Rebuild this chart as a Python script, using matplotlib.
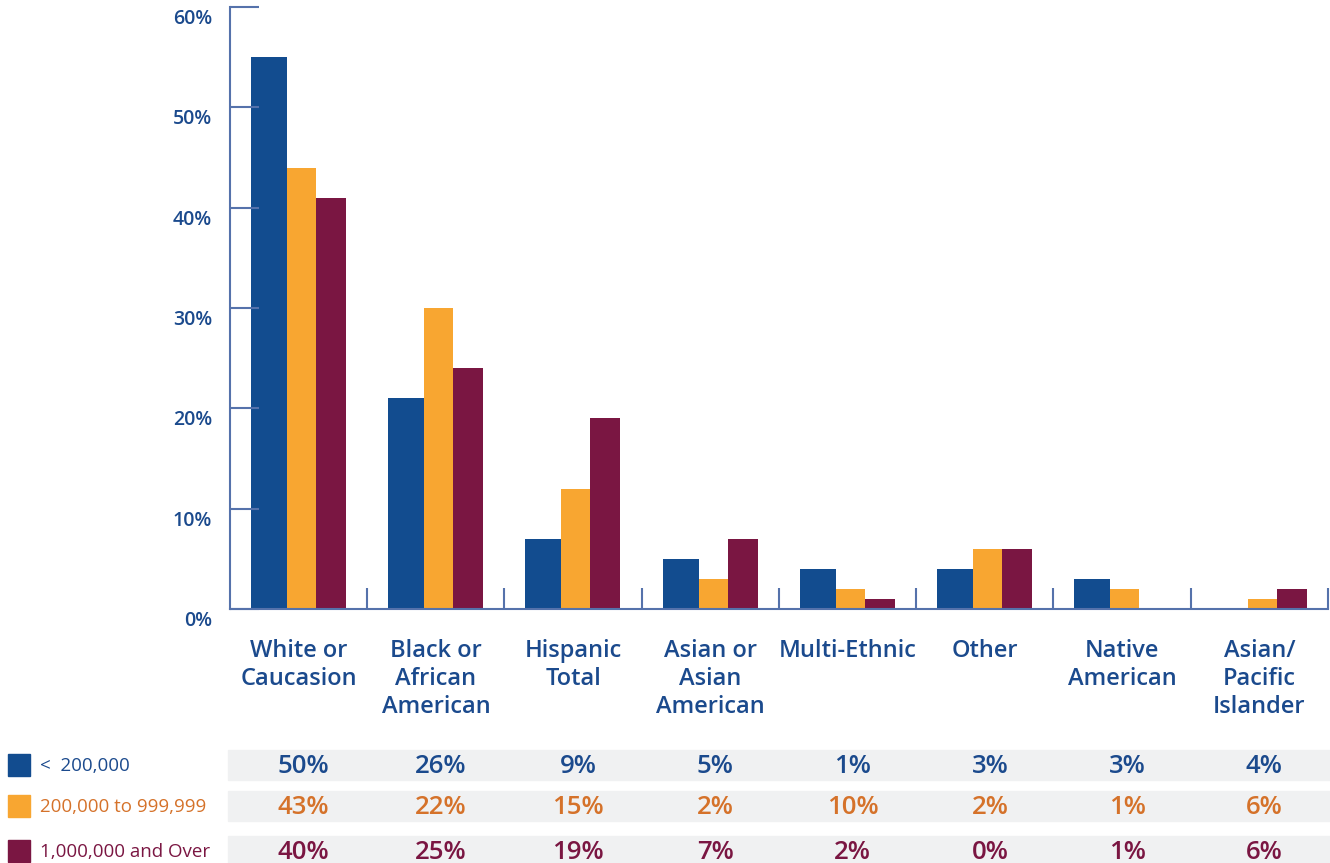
import matplotlib
matplotlib.use("Agg")
import matplotlib.pyplot as plt
from matplotlib.patches import Rectangle
import matplotlib.transforms as mtrans

# bar heights (percent)
categories = ["White or\nCaucasion", "Black or\nAfrican\nAmerican", "Hispanic\nTotal",
              "Asian or\nAsian\nAmerican", "Multi-Ethnic", "Other", "Native\nAmerican",
              "Asian/\nPacific\nIslander"]
small = [55, 21, 7, 5, 4, 4, 3, 0]
medium = [44, 30, 12, 3, 2, 6, 2, 1]
large = [41, 24, 19, 7, 1, 6, 0, 2]

# table values printed under the chart
series_names = ["<  200,000", "200,000 to 999,999", "1,000,000 and Over"]
tab_small = ["50%", "26%", "9%", "5%", "1%", "3%", "3%", "4%"]
tab_medium = ["43%", "22%", "15%", "2%", "10%", "2%", "1%", "6%"]
tab_large = ["40%", "25%", "19%", "7%", "2%", "0%", "1%", "6%"]
yticks = [0, 10, 20, 30, 40, 50, 60]

BLUE = "#124C8F"
ORANGE = "#F8A631"
MAROON = "#7A1642"
TXT_BLUE = "#1B4A8D"
TXT_ORANGE = "#D5722A"
SPINE = "#5572AB"
BAND = "#F0F1F2"

plt.rcParams['font.family'] = ['Open Sans', 'DejaVu Sans']

fig = plt.figure(figsize=(13.3, 8.63), dpi=100)
ax = fig.add_axes([230/1330, 1-609/863, 1098/1330, 602/863])

n = len(categories)
xs = list(range(n))
# bar left edges / widths as fractions of a group
ax.bar([x + 0.153 for x in xs], small, width=0.262, align='edge', color=BLUE)
ax.bar([x + 0.415 for x in xs], medium, width=0.211, align='edge', color=ORANGE)
ax.bar([x + 0.626 for x in xs], large, width=0.219, align='edge', color=MAROON)

ax.set_xlim(0, n)
ax.set_ylim(0, 60)
for s in ['top', 'right']:
    ax.spines[s].set_visible(False)
for s in ['left', 'bottom']:
    ax.spines[s].set_color(SPINE)
    ax.spines[s].set_linewidth(1.5)

ax.set_yticks(yticks)
ax.set_yticklabels([])
ax.tick_params(axis='y', direction='in', length=21, width=1.5, color=SPINE)
ax.set_xticks(range(1, n + 1))
ax.set_xticklabels([])
ax.tick_params(axis='x', direction='in', length=15, width=1.5, color=SPINE)

# y labels sit a little below their ticks
off = mtrans.ScaledTranslation(-18/100, -12/100, fig.dpi_scale_trans)
for v in yticks:
    ax.text(0, v, f"{v}%", transform=ax.get_yaxis_transform() + off,
            ha='right', va='center', fontsize=14, fontweight='semibold', color=TXT_BLUE)

# category labels
for i, c in enumerate(categories):
    xf = (230 + (i + 0.5) * 137.25) / 1330
    fig.text(xf, 1 - 639/863, c, ha='center', va='top', fontsize=17,
             fontweight='semibold', color=TXT_BLUE, linespacing=1.22)

# table
rows_y = [765, 806, 851]
colors = [BLUE, ORANGE, MAROON]
txt_colors = [TXT_BLUE, TXT_ORANGE, MAROON]
tables = [tab_small, tab_medium, tab_large]
for r in range(3):
    yc = 1 - rows_y[r]/863
    fig.patches.append(Rectangle((228/1330, yc - 15/863), 1102/1330, 30/863,
                                 transform=fig.transFigure, color=BAND, zorder=0))
    fig.patches.append(Rectangle((8/1330, yc - 11/863), 22/1330, 22/863,
                                 transform=fig.transFigure, color=colors[r], zorder=1))
    fig.text(40/1330, yc - 1/863, series_names[r], ha='left', va='center', fontsize=13.5,
             color=txt_colors[r])
    for i, v in enumerate(tables[r]):
        xf = (230 + (i + 0.5) * 137.25 + 5) / 1330
        fig.text(xf, yc - 1/863, v, ha='center', va='center', fontsize=18.5,
                 fontweight='semibold', color=txt_colors[r])

fig.savefig("out.png", dpi=100)
